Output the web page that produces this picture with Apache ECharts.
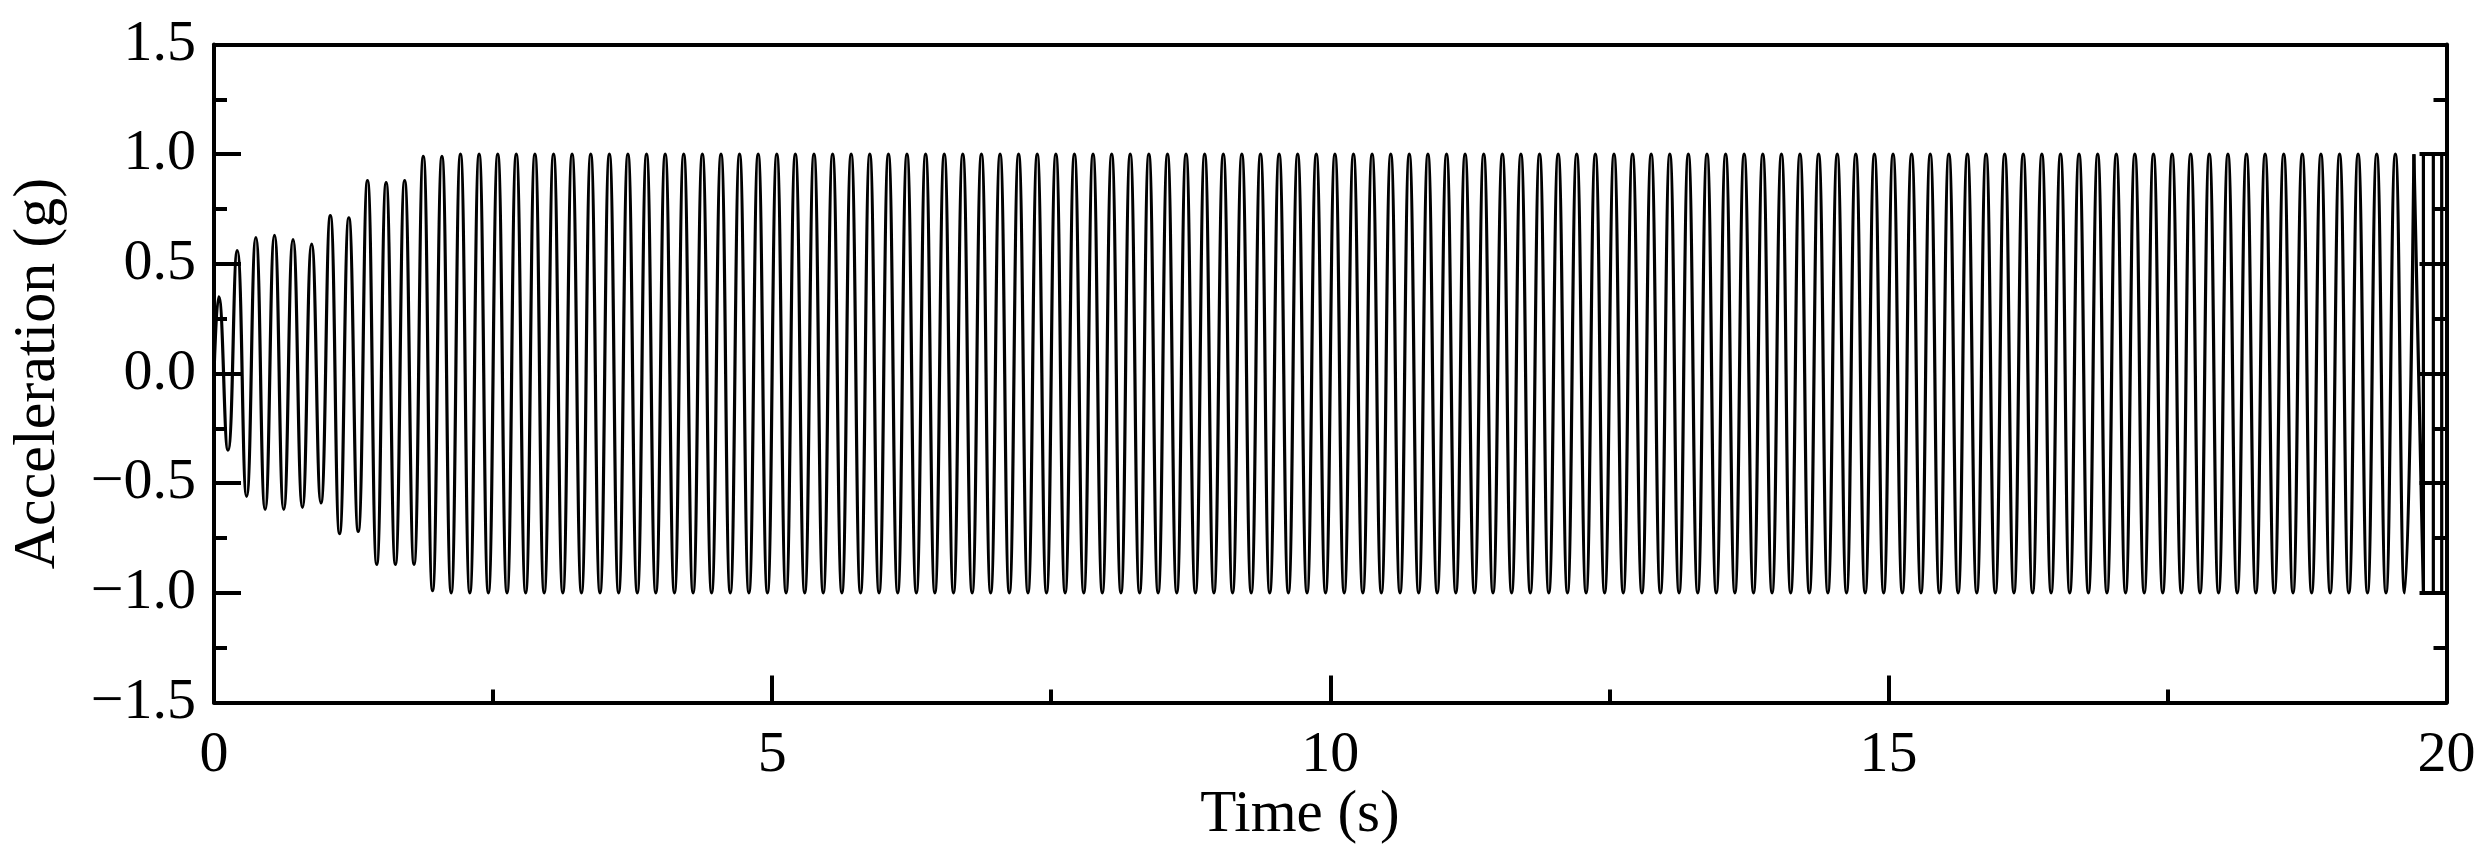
<!DOCTYPE html>
<html>
<head>
<meta charset="utf-8">
<script src="https://cdn.jsdelivr.net/npm/echarts@6/dist/echarts.min.js"></script>
<style>
  html, body { margin: 0; padding: 0; background: #fff; }
  #chart { width: 2485px; height: 865px; }
</style>
</head>
<body>
<div id="chart"></div>
<script>
// Times (s) of each peak / trough of the record (one row per second)
const extremumTime = [
  0.042,0.125,0.208,0.292,0.375,0.458,0.542,0.625,0.708,0.792,0.875,0.958,
  1.042,1.125,1.208,1.292,1.375,1.458,1.542,1.625,1.708,1.792,1.875,1.958,
  2.042,2.125,2.208,2.292,2.375,2.458,2.542,2.625,2.708,2.792,2.875,2.958,
  3.042,3.125,3.208,3.292,3.375,3.458,3.542,3.625,3.708,3.792,3.875,3.958,
  4.042,4.125,4.208,4.292,4.375,4.458,4.542,4.625,4.708,4.792,4.875,4.958,
  5.042,5.125,5.208,5.292,5.375,5.458,5.542,5.625,5.708,5.792,5.875,5.958,
  6.042,6.125,6.208,6.292,6.375,6.458,6.542,6.625,6.708,6.792,6.875,6.958,
  7.042,7.125,7.208,7.292,7.375,7.458,7.542,7.625,7.708,7.792,7.875,7.958,
  8.042,8.125,8.208,8.292,8.375,8.458,8.542,8.625,8.708,8.792,8.875,8.958,
  9.042,9.125,9.208,9.292,9.375,9.458,9.542,9.625,9.708,9.792,9.875,9.958,
  10.042,10.125,10.208,10.292,10.375,10.458,10.542,10.625,10.708,10.792,10.875,10.958,
  11.042,11.125,11.208,11.292,11.375,11.458,11.542,11.625,11.708,11.792,11.875,11.958,
  12.042,12.125,12.208,12.292,12.375,12.458,12.542,12.625,12.708,12.792,12.875,12.958,
  13.042,13.125,13.208,13.292,13.375,13.458,13.542,13.625,13.708,13.792,13.875,13.958,
  14.042,14.125,14.208,14.292,14.375,14.458,14.542,14.625,14.708,14.792,14.875,14.958,
  15.042,15.125,15.208,15.292,15.375,15.458,15.542,15.625,15.708,15.792,15.875,15.958,
  16.042,16.125,16.208,16.292,16.375,16.458,16.542,16.625,16.708,16.792,16.875,16.958,
  17.042,17.125,17.208,17.292,17.375,17.458,17.542,17.625,17.708,17.792,17.875,17.958,
  18.042,18.125,18.208,18.292,18.375,18.458,18.542,18.625,18.708,18.792,18.875,18.958,
  19.042,19.125,19.208,19.292,19.375,19.458,19.542,19.625,19.708
];
// Acceleration (g) at each peak / trough
const extremumAccel = [
  0.35,-0.35,0.56,-0.56,0.62,-0.62,0.63,-0.62,0.61,-0.61,0.59,-0.59,
  0.72,-0.73,0.71,-0.72,0.88,-0.87,0.87,-0.87,0.88,-0.87,0.99,-0.99,
  0.99,-1.0,1.0,-1.0,1.0,-1.0,1.0,-1.0,1.0,-1.0,1.0,-1.0,
  1.0,-1.0,1.0,-1.0,1.0,-1.0,1.0,-1.0,1.0,-1.0,1.0,-1.0,
  1.0,-1.0,1.0,-1.0,1.0,-1.0,1.0,-1.0,1.0,-1.0,1.0,-1.0,
  1.0,-1.0,1.0,-1.0,1.0,-1.0,1.0,-1.0,1.0,-1.0,1.0,-1.0,
  1.0,-1.0,1.0,-1.0,1.0,-1.0,1.0,-1.0,1.0,-1.0,1.0,-1.0,
  1.0,-1.0,1.0,-1.0,1.0,-1.0,1.0,-1.0,1.0,-1.0,1.0,-1.0,
  1.0,-1.0,1.0,-1.0,1.0,-1.0,1.0,-1.0,1.0,-1.0,1.0,-1.0,
  1.0,-1.0,1.0,-1.0,1.0,-1.0,1.0,-1.0,1.0,-1.0,1.0,-1.0,
  1.0,-1.0,1.0,-1.0,1.0,-1.0,1.0,-1.0,1.0,-1.0,1.0,-1.0,
  1.0,-1.0,1.0,-1.0,1.0,-1.0,1.0,-1.0,1.0,-1.0,1.0,-1.0,
  1.0,-1.0,1.0,-1.0,1.0,-1.0,1.0,-1.0,1.0,-1.0,1.0,-1.0,
  1.0,-1.0,1.0,-1.0,1.0,-1.0,1.0,-1.0,1.0,-1.0,1.0,-1.0,
  1.0,-1.0,1.0,-1.0,1.0,-1.0,1.0,-1.0,1.0,-1.0,1.0,-1.0,
  1.0,-1.0,1.0,-1.0,1.0,-1.0,1.0,-1.0,1.0,-1.0,1.0,-1.0,
  1.0,-1.0,1.0,-1.0,1.0,-1.0,1.0,-1.0,1.0,-1.0,1.0,-1.0,
  1.0,-1.0,1.0,-1.0,1.0,-1.0,1.0,-1.0,1.0,-1.0,1.0,-1.0,
  1.0,-1.0,1.0,-1.0,1.0,-1.0,1.0,-1.0,1.0,-1.0,1.0,-1.0,
  1.0,-1.0,1.0,-1.0,1.0,-1.0,1.0,-1.0,1.0
];
// Starting point of the record
const startTime = [0.0];
const startAccel = [0.0];
// Squared-off end of the record (last ~0.3 s)
const tailTime  = [19.708, 19.793, 19.793, 19.882, 19.882, 19.957, 19.957, 20.0];
const tailAccel = [1.0, -1.0, 1.0, 1.0, -1.0, -1.0, 1.0, 1.0];

// Axis setup
const xTicks = [0, 5, 10, 15, 20];
const yTicks = [-1.5, -1.0, -0.5, 0.0, 0.5, 1.0, 1.5];
const xTitle = 'Time (s)';
const yTitle = 'Acceleration (g)';

const mainData = startTime.map((t, i) => [t, startAccel[i]])
  .concat(extremumTime.map((t, i) => [t, extremumAccel[i]]));
const tailData = tailTime.map((t, i) => [t, tailAccel[i]]);

const FONT = 'Liberation Serif';
const AXW = 4;
const LW = 3.2;
const chart = echarts.init(document.getElementById('chart'));

const commonLine = { show: true, onZero: false, lineStyle: { color: '#000', width: AXW } };

chart.setOption({
  animation: false,
  backgroundColor: '#fff',
  title: {
    text: xTitle, left: 1300, top: 786, textAlign: 'center', padding: 0,
    textStyle: { fontFamily: FONT, fontSize: 59, fontWeight: 'normal', color: '#000' }
  },
  grid: { left: 212.5, right: 38.5, top: 44.5, bottom: 162.5, containLabel: false },
  xAxis: [{
    type: 'value', position: 'bottom',
    min: xTicks[0], max: xTicks[xTicks.length - 1], interval: xTicks[1] - xTicks[0],
    axisLine: commonLine,
    axisTick: { show: true, inside: true, length: 27, lineStyle: { color: '#000', width: AXW } },
    minorTick: { show: true, splitNumber: 2, length: 13, lineStyle: { color: '#000', width: AXW } },
    splitLine: { show: false }, minorSplitLine: { show: false },
    axisLabel: { show: true, margin: 24, fontFamily: FONT, fontSize: 58, color: '#000',
      formatter: v => String(v) }
  }, {
    type: 'value', position: 'top',
    min: xTicks[0], max: xTicks[xTicks.length - 1], interval: xTicks[1] - xTicks[0],
    axisLine: commonLine, axisTick: { show: false }, axisLabel: { show: false },
    splitLine: { show: false }
  }],
  yAxis: [{
    type: 'value', position: 'left',
    min: yTicks[0], max: yTicks[yTicks.length - 1], interval: 0.5,
    name: yTitle, nameLocation: 'middle', nameGap: 146, nameRotate: 90,
    nameTextStyle: { fontFamily: FONT, fontSize: 60, color: '#000' },
    axisLine: commonLine,
    axisTick: { show: true, inside: true, length: 27, lineStyle: { color: '#000', width: AXW } },
    minorTick: { show: true, splitNumber: 2, length: 13, lineStyle: { color: '#000', width: AXW } },
    splitLine: { show: false }, minorSplitLine: { show: false },
    axisLabel: { show: true, margin: 18, fontFamily: FONT, fontSize: 58, color: '#000',
      formatter: v => v.toFixed(1).replace('-', '\u2212') }
  }, {
    type: 'value', position: 'right',
    min: yTicks[0], max: yTicks[yTicks.length - 1], interval: 0.5,
    axisLine: commonLine,
    axisTick: { show: true, inside: true, length: 27, lineStyle: { color: '#000', width: AXW } },
    minorTick: { show: true, splitNumber: 2, length: 13, lineStyle: { color: '#000', width: AXW } },
    splitLine: { show: false }, minorSplitLine: { show: false },
    axisLabel: { show: false }
  }],
  series: [{
    type: 'line', xAxisIndex: 0, yAxisIndex: 0, data: mainData,
    smooth: 0.5, showSymbol: false, symbol: 'none', sampling: false,
    lineStyle: { color: '#000', width: LW }, z: 1
  }, {
    type: 'line', xAxisIndex: 0, yAxisIndex: 0, data: tailData,
    smooth: false, showSymbol: false, symbol: 'none',
    lineStyle: { color: '#000', width: LW }, z: 1
  }]
});
</script>
</body>
</html>
